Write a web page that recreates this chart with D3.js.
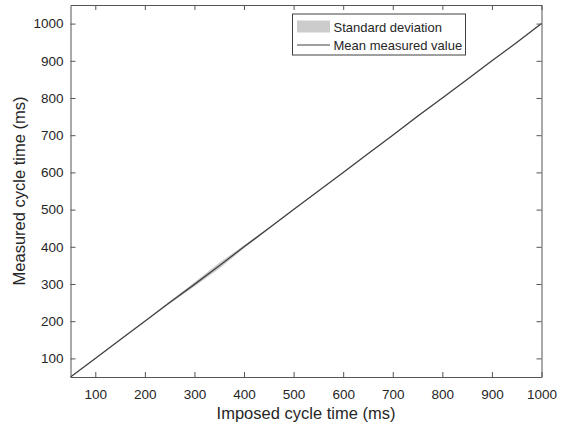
<!DOCTYPE html>
<html>
<head>
<meta charset="utf-8">
<script src="https://cdn.jsdelivr.net/npm/d3@7"></script>
<style>
  body { margin: 0; background: #fff; }
  text { font-family: "Liberation Sans", Arial, sans-serif; fill: #262626; }
</style>
</head>
<body>
<svg id="chart" width="562" height="425"></svg>
<script>
// Data
const imposed = [50, 100, 150, 200, 250, 300, 350, 400, 450, 500, 550, 600, 650, 700, 750, 800, 850, 900, 950, 1000];
const meanMeasured = [50, 100, 150, 200, 250, 299, 349, 400, 450, 500, 550, 600, 650, 700, 751, 800, 850, 900, 949, 1000];
const stdDev = [1, 1, 1, 1, 3, 6, 8, 4, 2, 1, 1, 1, 1, 1, 2, 1, 1, 1, 1, 1];
const xTicks = [100, 200, 300, 400, 500, 600, 700, 800, 900, 1000];
const yTicks = [100, 200, 300, 400, 500, 600, 700, 800, 900, 1000];

const data = imposed.map((d, i) => ({ x: d, m: meanMeasured[i], s: stdDev[i] }));

// Plot box
let margin = { top: 5, right: 20.5, bottom: 48, left: 70.5 };
const width = 562 - margin.left - margin.right;
const height = 425 - margin.top - margin.bottom;

const x = d3.scaleLinear().domain([50, 1000]).range([0, width]);
const y = d3.scaleLinear().domain([50, 1050]).range([height, 0]);

const svg = d3.select("#chart")
  .append("g")
  .attr("transform", `translate(${margin.left},${margin.top})`);

// Standard deviation band
const area = d3.area()
  .x((d) => x(d.x))
  .y0((d) => y(d.m - d.s))
  .y1((d) => y(d.m + d.s));

svg.append("path")
  .datum(data)
  .attr("d", area)
  .attr("fill", "#cccccc");

// Mean line
const line = d3.line()
  .x((d) => x(d.x))
  .y((d) => y(d.m));

svg.append("path")
  .datum(data)
  .attr("d", line)
  .attr("fill", "none")
  .attr("stroke", "#404040")
  .attr("stroke-width", 1.3);

// Axes (MATLAB style: ticks pointing inward, on all four sides)
const axisColor = "#555";
const fmt = d3.format("d");

const styleAxis = (g) => {
  g.select(".domain").attr("stroke", axisColor);
  g.selectAll(".tick line").attr("stroke", axisColor);
  g.selectAll(".tick text")
    .style("font-family", "'Liberation Sans', Arial, sans-serif")
    .style("font-size", "13.5px")
    .attr("fill", "#262626");
};

svg.append("g")
  .attr("transform", `translate(0,${height})`)
  .call(d3.axisBottom(x).tickValues(xTicks).tickFormat(fmt).tickSizeInner(-5).tickSizeOuter(0).tickPadding(12))
  .call(styleAxis);

svg.append("g")
  .call(d3.axisLeft(y).tickValues(yTicks).tickFormat(fmt).tickSizeInner(-5).tickSizeOuter(0).tickPadding(7))
  .call(styleAxis);

svg.append("g")
  .call(d3.axisTop(x).tickValues(xTicks).tickSizeInner(-5).tickSizeOuter(0).tickFormat(""))
  .call(styleAxis);

svg.append("g")
  .attr("transform", `translate(${width},0)`)
  .call(d3.axisRight(y).tickValues(yTicks).tickSizeInner(-5).tickSizeOuter(0).tickFormat(""))
  .call(styleAxis);

// Axis labels
svg.append("text")
  .attr("x", width / 2)
  .attr("y", height + 42)
  .attr("text-anchor", "middle")
  .attr("font-size", "16.5px")
  .text("Imposed cycle time (ms)");

svg.append("text")
  .attr("transform", `translate(${-45.5},${height / 2}) rotate(-90)`)
  .attr("text-anchor", "middle")
  .attr("font-size", "16.5px")
  .text("Measured cycle time (ms)");

// Legend
const legend = svg.append("g")
  .attr("transform", `translate(${292.5 - margin.left},${14 - margin.top})`);

legend.append("rect")
  .attr("width", 173)
  .attr("height", 41)
  .attr("fill", "#fff")
  .attr("stroke", "#404040")
  .attr("stroke-width", 1);

legend.append("rect")
  .attr("x", 4.5)
  .attr("y", 6.5)
  .attr("width", 33)
  .attr("height", 12)
  .attr("fill", "#cccccc");

legend.append("line")
  .attr("x1", 4.5)
  .attr("x2", 37.5)
  .attr("y1", 31)
  .attr("y2", 31)
  .attr("stroke", "#404040")
  .attr("stroke-width", 1);

legend.append("text")
  .attr("x", 41)
  .attr("y", 17.5)
  .attr("font-size", "13px")
  .text("Standard deviation");

legend.append("text")
  .attr("x", 41)
  .attr("y", 36)
  .attr("font-size", "13px")
  .text("Mean measured value");
</script>
</body>
</html>
